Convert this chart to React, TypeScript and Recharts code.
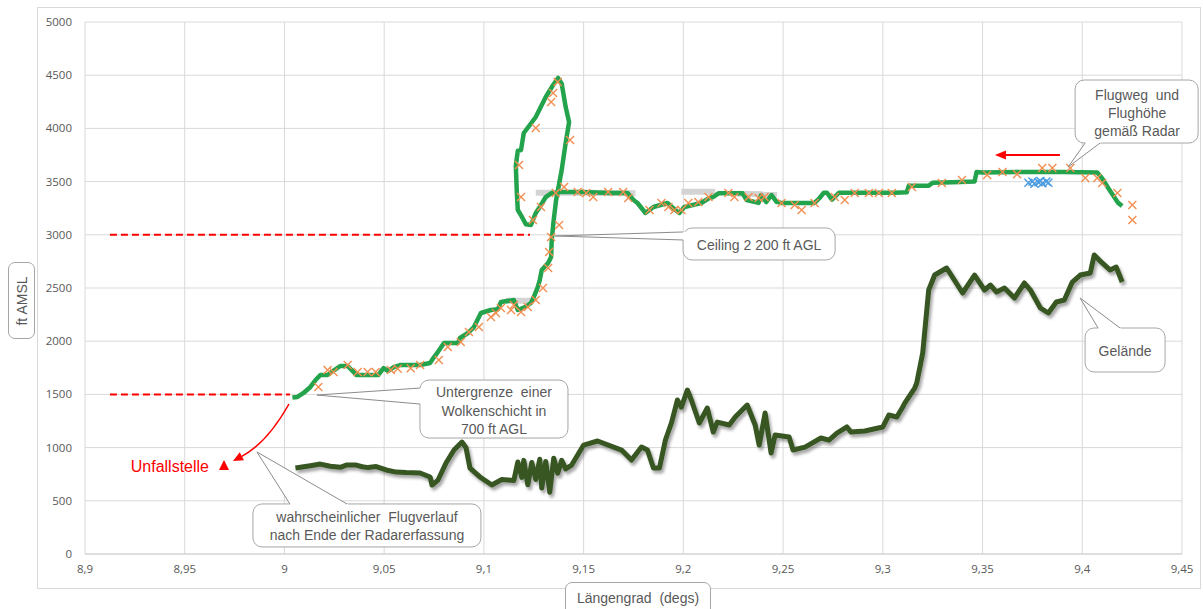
import {
  ComposedChart,
  Line,
  Scatter,
  XAxis,
  YAxis,
  CartesianGrid,
  ReferenceLine,
  ReferenceDot,
} from "recharts";

const FONT = "'Liberation Sans', Arial, sans-serif";
const TICK_FONT = "'Open Sans', 'DejaVu Sans', sans-serif";
const TEXT_GREY = "#595959";

const xTicks = [8.9, 8.95, 9, 9.05, 9.1, 9.15, 9.2, 9.25, 9.3, 9.35, 9.4, 9.45];
const yTicks = [0, 500, 1000, 1500, 2000, 2500, 3000, 3500, 4000, 4500, 5000];

// Gelände (terrain) along the track, [lon, ft]
const terrain: [number, number][] = [
  [9.0055, 808], [9.013, 830], [9.018, 845], [9.023, 825], [9.028, 815], [9.031, 836],
  [9.036, 836], [9.039, 820], [9.042, 812], [9.046, 822], [9.051, 790], [9.056, 770],
  [9.061, 765], [9.068, 761], [9.073, 724], [9.074, 648], [9.077, 695], [9.081, 855],
  [9.085, 977], [9.089, 1052], [9.091, 1000], [9.093, 808], [9.098, 724], [9.104, 648],
  [9.109, 700], [9.115, 690], [9.117, 865], [9.119, 720], [9.12, 880], [9.122, 650],
  [9.124, 860], [9.126, 700], [9.128, 890], [9.129, 620], [9.131, 870], [9.133, 580],
  [9.135, 900], [9.137, 760], [9.139, 880], [9.141, 800], [9.144, 836], [9.15, 1024],
  [9.157, 1062], [9.169, 977], [9.174, 883], [9.179, 1005], [9.182, 977], [9.185, 808],
  [9.188, 808], [9.191, 1071], [9.194, 1231], [9.197, 1447], [9.199, 1380], [9.202, 1541],
  [9.204, 1447], [9.208, 1231], [9.212, 1372], [9.215, 1146], [9.217, 1240], [9.223, 1212],
  [9.226, 1288], [9.232, 1400], [9.236, 1212], [9.238, 1024], [9.241, 1325], [9.244, 949],
  [9.246, 1118], [9.253, 1100], [9.255, 977], [9.261, 1005], [9.269, 1090], [9.273, 1070],
  [9.277, 1137], [9.282, 1194], [9.284, 1146], [9.291, 1156], [9.3, 1194], [9.303, 1306],
  [9.307, 1288], [9.31, 1381], [9.311, 1419], [9.316, 1560], [9.317, 1607], [9.32, 1889],
  [9.323, 2481], [9.326, 2622], [9.332, 2688], [9.34, 2453], [9.346, 2622], [9.351, 2481],
  [9.354, 2528], [9.357, 2462], [9.361, 2500], [9.366, 2406], [9.371, 2547], [9.374, 2481],
  [9.379, 2312], [9.383, 2265], [9.387, 2368], [9.391, 2387], [9.395, 2556], [9.399, 2622],
  [9.404, 2641], [9.406, 2810], [9.41, 2735], [9.414, 2669], [9.417, 2697], [9.42, 2556],
];

// radar track, east to west, [lon, ft]
const radarTrack: [number, number][] = [
  [9.42, 3270], [9.418, 3300], [9.4155, 3370], [9.413, 3440], [9.41, 3530], [9.4075, 3585],
  [9.39, 3590], [9.37, 3590], [9.35, 3585], [9.347, 3590], [9.346, 3500], [9.335, 3495],
  [9.325, 3490], [9.323, 3460], [9.313, 3460], [9.312, 3400], [9.306, 3395], [9.29, 3395],
  [9.278, 3395], [9.2745, 3330], [9.272, 3395], [9.2704, 3395], [9.2683, 3346], [9.2658, 3300],
  [9.249, 3300], [9.2467, 3310], [9.2442, 3374], [9.2415, 3308], [9.239, 3374], [9.2377, 3300],
  [9.2317, 3327], [9.2297, 3390], [9.2176, 3390], [9.215, 3355], [9.213, 3346], [9.209, 3299],
  [9.2005, 3261], [9.198, 3205], [9.196, 3233], [9.192, 3299], [9.185, 3261], [9.181, 3205],
  [9.177, 3299], [9.175, 3327], [9.172, 3393], [9.164, 3393], [9.1487, 3402], [9.1387, 3402],
  [9.134, 3393], [9.131, 3355], [9.128, 3261], [9.126, 3205], [9.1236, 3092], [9.121, 3100],
  [9.119, 3170], [9.117, 3233], [9.1165, 3393], [9.116, 3650], [9.117, 3790], [9.1186, 3797],
  [9.12, 3957], [9.126, 4107], [9.131, 4295], [9.1347, 4408], [9.1372, 4474], [9.139, 4420],
  [9.141, 4201], [9.1427, 4060], [9.141, 3863], [9.139, 3609], [9.1362, 3327], [9.135, 3139],
  [9.134, 2951], [9.1337, 2791], [9.1322, 2735], [9.129, 2669], [9.128, 2575], [9.127, 2509],
  [9.125, 2415], [9.1236, 2359], [9.1206, 2321], [9.117, 2293], [9.115, 2387], [9.1085, 2368],
  [9.107, 2300], [9.1035, 2293], [9.0985, 2265], [9.095, 2133], [9.092, 2077], [9.088, 2030],
  [9.087, 1983], [9.08, 1983], [9.0769, 1898], [9.075, 1851], [9.073, 1795], [9.068, 1776],
  [9.058, 1776], [9.0548, 1757], [9.052, 1720], [9.0497, 1748], [9.047, 1682], [9.0447, 1682],
  [9.036, 1682], [9.0347, 1710], [9.0317, 1767], [9.028, 1767], [9.025, 1729], [9.0216, 1682],
  [9.018, 1682], [9.0156, 1635], [9.013, 1570], [9.01, 1520], [9.0065, 1476], [9.004, 1470],
];

// Mode C altitude readings (orange crosses)
const modeC: [number, number][] = [
  [9.017, 1570], [9.0216, 1729], [9.0246, 1710], [9.0317, 1776], [9.0367, 1710], [9.0417, 1710],
  [9.0457, 1710], [9.0533, 1729], [9.0568, 1740], [9.0633, 1745], [9.068, 1776], [9.0774, 1823],
  [9.0819, 1945], [9.0884, 1992], [9.0925, 2086], [9.0975, 2133], [9.1035, 2227], [9.106, 2265],
  [9.1085, 2312], [9.1136, 2293], [9.115, 2340], [9.1186, 2274], [9.122, 2321], [9.126, 2387],
  [9.1296, 2500], [9.1322, 2688], [9.1327, 2838], [9.1337, 2979], [9.1377, 3092], [9.1286, 3261],
  [9.1246, 3139], [9.1186, 3355], [9.1176, 3656], [9.126, 4004], [9.1337, 4248], [9.1347, 4333],
  [9.137, 4436], [9.1432, 3891], [9.1402, 3449], [9.136, 3393], [9.147, 3402], [9.1513, 3393],
  [9.1548, 3355], [9.1623, 3402], [9.1698, 3402], [9.1724, 3346], [9.183, 3233], [9.189, 3299],
  [9.1925, 3261], [9.1955, 3233], [9.199, 3233], [9.2025, 3299], [9.2075, 3308], [9.2126, 3355],
  [9.2226, 3393], [9.2256, 3355], [9.2327, 3355], [9.2377, 3346], [9.2407, 3355], [9.2492, 3299],
  [9.2558, 3280], [9.2593, 3233], [9.2658, 3299], [9.2759, 3355], [9.2809, 3327], [9.2859, 3393],
  [9.293, 3393], [9.298, 3393], [9.3045, 3393], [9.3146, 3449], [9.3296, 3487], [9.3397, 3515],
  [9.3523, 3562], [9.36, 3590], [9.3673, 3570], [9.3799, 3628], [9.385, 3628], [9.394, 3628],
  [9.4015, 3534], [9.4075, 3534], [9.41, 3487], [9.4176, 3393], [9.4251, 3280], [9.4251, 3139],
];

const blueCross: [number, number][] = [
  [9.373, 3490], [9.375, 3500], [9.376, 3480], [9.378, 3495], [9.379, 3505], [9.38, 3485],
  [9.382, 3500], [9.383, 3490],
];

// light grey track pieces underneath the radar line
const greyA: [number, number][] = [[9.126, 3395], [9.15, 3395], [9.176, 3390]];
const greyB: [number, number][] = [[9.199, 3405], [9.216, 3405]];
const greyC: [number, number][] = [[9.227, 3385], [9.247, 3380]];
const greyD: [number, number][] = [[9.111, 2380], [9.124, 2380]];

const toPts = (a: [number, number][]) => a.map(([x, y]) => ({ x, y }));

type Callout = {
  box: [number, number, number, number];
  base: [number, number][];
  lines: string[];
  tx: number;
  ty: number;
  lh: number;
};

function calloutShape(c: Callout) {
  return (p: any) => {
    const { cx, cy } = p;
    const [bx, by, bw, bh] = c.box;
    const ext = c.base.map(([dx, dy]) => [cx + dx * 1.12, cy + dy * 1.12]);
    return (
      <g>
        <rect x={cx + bx} y={cy + by} width={bw} height={bh} rx={9} fill="#fff" stroke="#a6a6a6" />
        <polygon
          points={`${cx},${cy} ${ext[0][0]},${ext[0][1]} ${ext[1][0]},${ext[1][1]}`}
          fill="#fff"
          stroke="none"
        />
        {c.base.map(([dx, dy], i) => (
          <line key={i} x1={cx} y1={cy} x2={cx + dx} y2={cy + dy} stroke="#8c8c8c" />
        ))}
        {c.lines.map((t, i) => (
          <text
            key={t}
            x={cx + c.tx}
            y={cy + c.ty + i * c.lh}
            textAnchor="middle"
            dominantBaseline="central"
            fontFamily={FONT}
            fontSize={14}
            fill={TEXT_GREY}
            style={{ whiteSpace: "pre" }}
          >
            {t}
          </text>
        ))}
      </g>
    );
  };
}

const radarNote: Callout = {
  box: [7, -87, 123, 63], base: [[17, -24], [32, -24]],
  lines: ["Flugweg  und", "Flughöhe", "gemäß Radar"], tx: 69, ty: -72, lh: 18,
};
const ceilingNote: Callout = {
  box: [128, -8, 152, 32], base: [[128, -4], [128, 4]],
  lines: ["Ceiling 2 200 ft AGL"], tx: 204, ty: 9, lh: 18,
};
const cloudNote: Callout = {
  box: [103, -15, 148, 58], base: [[103, -7], [103, 9]],
  lines: ["Untergrenze  einer", "Wolkenschicht in", "700 ft AGL"], tx: 177, ty: -3, lh: 18.5,
};
const terrainNote: Callout = {
  box: [5, 30, 80, 44], base: [[18, 30], [40, 30]],
  lines: ["Gelände"], tx: 45, ty: 53, lh: 18,
};
const trackNote: Callout = {
  box: [-4, 52, 228, 43], base: [[33, 52], [90, 52]],
  lines: ["wahrscheinlicher  Flugverlauf", "nach Ende der Radarerfassung"], tx: 110, ty: 65, lh: 18,
};

const Cross = (color: string, s: number) => (p: any) => {
  const { cx, cy } = p;
  return (
    <path
      d={`M${cx - s},${cy - s}L${cx + s},${cy + s}M${cx + s},${cy - s}L${cx - s},${cy + s}`}
      stroke={color}
      strokeWidth={1.4}
      fill="none"
    />
  );
};

const leftArrow = (p: any) => {
  const { cx, cy } = p;
  return (
    <g>
      <line x1={cx + 8} y1={cy} x2={cx + 65} y2={cy} stroke="#ff0000" strokeWidth={2} />
      <polygon points={`${cx},${cy} ${cx + 11},${cy - 4.5} ${cx + 11},${cy + 4.5}`} fill="#ff0000" />
    </g>
  );
};

const curvedArrow = (p: any) => {
  const { cx, cy } = p;
  const sx = cx + 56, sy = cy - 57, qx = cx + 34, qy = cy - 18;
  const dx = cx - qx, dy = cy - qy;
  const len = Math.hypot(dx, dy);
  const ux = dx / len, uy = dy / len;
  const bx = cx - ux * 10, by = cy - uy * 10;
  return (
    <g>
      <path d={`M${sx},${sy} Q${qx},${qy} ${bx},${by}`} stroke="#ff0000" strokeWidth={1.5} fill="none" />
      <polygon
        points={`${cx},${cy} ${bx - uy * 4.5},${by + ux * 4.5} ${bx + uy * 4.5},${by - ux * 4.5}`}
        fill="#ff0000"
      />
    </g>
  );
};

const crashSite = (p: any) => {
  const { cx, cy } = p;
  return (
    <g>
      <polygon points={`${cx},${cy - 6} ${cx - 5},${cy + 4} ${cx + 5},${cy + 4}`} fill="#ff0000" />
      <text
        x={cx - 15}
        y={cy}
        textAnchor="end"
        dominantBaseline="central"
        fontFamily={FONT}
        fontSize={16}
        fill="#ff0000"
      >
        Unfallstelle
      </text>
    </g>
  );
};

const fmtLon = (v: number) => String(v).replace(".", ",");

export default function App() {
  return (
    <div
      style={{
        position: "absolute",
        left: 0,
        top: 0,
        width: 1203,
        height: 609,
        background: "#fff",
        overflow: "hidden",
      }}
    >
      <div
        style={{
          position: "absolute",
          left: 37,
          top: 7,
          width: 1162,
          height: 580,
          border: "1px solid #d9d9d9",
        }}
      />
      <div style={{ position: "absolute", left: 0, top: 0 }}>
        <ComposedChart width={1203} height={609} margin={{ top: 22, right: 21, bottom: 25, left: 35 }}>
          <defs>
            <filter id="terrShadow" x="-5%" y="-20%" width="110%" height="140%">
              <feDropShadow dx="2" dy="3" stdDeviation="1.8" floodColor="#000" floodOpacity="0.35" />
            </filter>
          </defs>
          <CartesianGrid stroke="#d9d9d9" />
          <XAxis
            type="number"
            dataKey="x"
            domain={[8.9, 9.45]}
            ticks={xTicks}
            interval={0}
            allowDataOverflow
            tickFormatter={fmtLon}
            tickLine={false}
            axisLine={{ stroke: "#d0d0d0" }}
            tickMargin={5}
            height={30}
            tick={{ fill: TEXT_GREY, fontSize: 11.5, fontFamily: TICK_FONT }}
          />
          <YAxis
            type="number"
            dataKey="y"
            domain={[0, 5000]}
            ticks={yTicks}
            interval={0}
            allowDataOverflow
            tickLine={false}
            axisLine={false}
            tickMargin={7}
            width={50}
            tick={{ fill: TEXT_GREY, fontSize: 11.5, fontFamily: TICK_FONT }}
          />
          {[greyA, greyB, greyC, greyD].map((g, i) => (
            <Line
              key={i}
              data={toPts(g)}
              dataKey="y"
              type="linear"
              stroke="#d4d4d4"
              strokeWidth={6}
              dot={false}
              isAnimationActive={false}
            />
          ))}
          <Line
            data={toPts(terrain)}
            dataKey="y"
            type="linear"
            stroke="#375623"
            strokeWidth={5}
            strokeLinejoin="round"
            dot={false}
            filter="url(#terrShadow)"
            isAnimationActive={false}
          />
          <Line
            data={toPts(radarTrack)}
            dataKey="y"
            type="linear"
            stroke="#22a34c"
            strokeWidth={4.5}
            strokeLinejoin="round"
            dot={false}
            isAnimationActive={false}
          />
          <Scatter data={toPts(modeC)} shape={Cross("#f28f52", 4)} isAnimationActive={false} />
          <Scatter data={toPts(blueCross)} shape={Cross("#4a9be0", 4)} isAnimationActive={false} />
          <ReferenceLine
            segment={[{ x: 8.9125, y: 3000 }, { x: 9.1231, y: 3000 }]}
            stroke="#ff0000"
            strokeWidth={2}
            strokeDasharray="7 4"
          />
          <ReferenceLine
            segment={[{ x: 8.9125, y: 1500 }, { x: 9.0028, y: 1500 }]}
            stroke="#ff0000"
            strokeWidth={2}
            strokeDasharray="7 4"
          />
          <ReferenceDot x={9.3929} y={3637} r={1} shape={calloutShape(radarNote)} />
          <ReferenceDot x={9.1357} y={2989} r={1} shape={calloutShape(ceilingNote)} />
          <ReferenceDot x={9.0163} y={1494} r={1} shape={calloutShape(cloudNote)} />
          <ReferenceDot x={9.3989} y={2406} r={1} shape={calloutShape(terrainNote)} />
          <ReferenceDot x={8.9862} y={959} r={1} shape={calloutShape(trackNote)} />
          <ReferenceDot x={9.3562} y={3750} r={1} shape={leftArrow} />
          <ReferenceDot x={8.9742} y={874} r={1} shape={curvedArrow} />
          <ReferenceDot x={8.9697} y={827} r={1} shape={crashSite} />
        </ComposedChart>
      </div>
      <div
        style={{
          position: "absolute",
          left: 8,
          top: 262,
          width: 25,
          height: 75,
          border: "1px solid #a6a6a6",
          borderRadius: 7,
          background: "#fff",
        }}
      >
        <div
          style={{
            position: "absolute",
            left: "50%",
            top: "50%",
            transform: "translate(-50%, -50%) rotate(-90deg)",
            whiteSpace: "nowrap",
            fontFamily: FONT,
            fontSize: 14,
            color: TEXT_GREY,
          }}
        >
          ft AMSL
        </div>
      </div>
      <div
        style={{
          position: "absolute",
          left: 565,
          top: 582,
          width: 144,
          height: 34,
          border: "1px solid #a6a6a6",
          borderRadius: 7,
          background: "#fff",
          fontFamily: FONT,
          fontSize: 14,
          color: TEXT_GREY,
          textAlign: "center",
          lineHeight: "30px",
          whiteSpace: "pre",
        }}
      >
        {"Längengrad  (degs)"}
      </div>
    </div>
  );
}
